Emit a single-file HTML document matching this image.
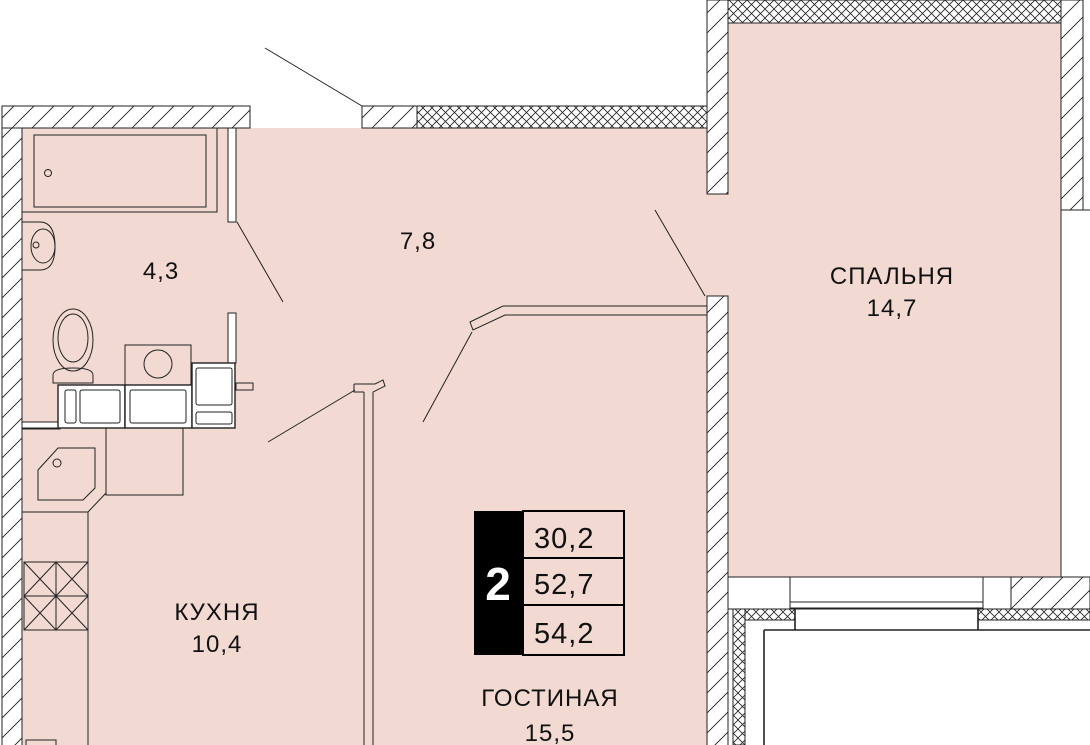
<!DOCTYPE html>
<html><head><meta charset="utf-8"><style>
html,body{margin:0;padding:0;background:#fff;width:1090px;height:745px;overflow:hidden}
svg{display:block}
text{font-family:"Liberation Sans",sans-serif;fill:#111}
</style></head><body>
<svg width="1090" height="745" viewBox="0 0 1090 745" xmlns="http://www.w3.org/2000/svg">
<defs>
<pattern id="h" width="20" height="20" patternUnits="userSpaceOnUse">
<rect width="20" height="20" fill="#fff"/>
<path d="M0 20 L20 0 M-4 4 L4 -4 M16 24 L24 16" stroke="#222" stroke-width="0.9"/>
</pattern>
<pattern id="x" width="9" height="9" patternUnits="userSpaceOnUse">
<rect width="9" height="9" fill="#fff"/>
<path d="M0 0 L9 9 M9 0 L0 9" stroke="#222" stroke-width="0.8"/>
</pattern>
</defs>
<rect x="22" y="128" width="686" height="617" fill="#f2dad2"/>
<rect x="707" y="194" width="22" height="102" fill="#f2dad2"/>
<rect x="728" y="23" width="333" height="554" fill="#f2dad2"/>
<rect x="2" y="106" width="20" height="640" fill="url(#h)" stroke="#222"/>
<rect x="2" y="106" width="248" height="22" fill="url(#h)" stroke="#222"/>
<rect x="362" y="106" width="55" height="22" fill="url(#h)" stroke="#222"/>
<rect x="417" y="106" width="290" height="22" fill="url(#x)" stroke="#222"/>
<rect x="707" y="0" width="21" height="194" fill="url(#h)" stroke="#222"/>
<rect x="707" y="296" width="21" height="450" fill="url(#h)" stroke="#222"/>
<rect x="728" y="0" width="333" height="23" fill="url(#x)" stroke="#222"/>
<rect x="1061" y="0" width="22" height="210" fill="url(#h)" stroke="#222"/>
<rect x="1061" y="210" width="35" height="367" fill="#fff" stroke="#222"/>
<rect x="728" y="577" width="62" height="32" fill="#fff" stroke="#222"/>
<rect x="790" y="577" width="193" height="32" fill="#fff" stroke="#222"/>
<rect x="983" y="577" width="28" height="32" fill="#fff" stroke="#222"/>
<rect x="1011" y="577" width="79" height="32" fill="url(#h)" stroke="#222"/>
<rect x="790" y="602" width="193" height="6" fill="#fff" stroke="#222"/>
<rect x="733" y="609" width="62" height="11" fill="url(#x)" stroke="#222"/>
<rect x="978" y="609" width="112" height="11" fill="url(#x)" stroke="#222"/>
<rect x="733" y="609" width="12" height="136" fill="url(#x)" stroke="#222"/>
<path d="M795 609 V630 M978 609 V630 M764 630 H1090 M764 630 V745" stroke="#222" stroke-width="1.6" fill="none"/>
<g stroke="#222" stroke-width="1" fill="none">
<line x1="265" y1="48" x2="362" y2="106"/>
<line x1="237" y1="222" x2="283" y2="302"/>
<line x1="655" y1="210" x2="705" y2="296"/>
<line x1="423" y1="422" x2="472" y2="332"/>
<path d="M470 322 L503 306 H707 V315 H505 L473 330 Z" fill="#f2dad2"/>
<line x1="268" y1="442" x2="355" y2="390"/>
<path d="M354 384 H375 L383 380 L385 386 L373 392 H373 V745 M364 392 V745 M354 384 V392 H364"/>
<rect x="22" y="128" width="195" height="84"/>
<rect x="34" y="135" width="172" height="72"/>
<circle cx="48" cy="173" r="3.5"/>
<rect x="228" y="128" width="8" height="94" fill="#fff"/>
<path d="M22 222 H40 Q55 222 55 247 Q55 270 40 270 H22"/>
<ellipse cx="43" cy="246" rx="12" ry="17"/>
<circle cx="36" cy="245" r="3"/>
<ellipse cx="73" cy="340" rx="20" ry="31"/>
<ellipse cx="73" cy="338" rx="15" ry="24"/>
<path d="M53 383 V375 Q53 368 73 368 Q93 368 93 375 V383 Z"/>
<rect x="125" y="345" width="66" height="40"/>
<circle cx="158" cy="364" r="14"/>
<rect x="228" y="313" width="8" height="50" fill="#fff"/>
<rect x="236" y="383" width="17" height="7"/>
<rect x="22" y="422" width="38" height="7" fill="#fff"/>
<g stroke-width="1.4">
<rect x="58" y="385" width="67" height="43" fill="#fff"/>
<rect x="125" y="385" width="67" height="43" fill="#fff"/>
<rect x="192" y="363" width="43" height="65" fill="#fff"/>
</g>
<rect x="65" y="390" width="11" height="33" rx="2"/>
<rect x="80" y="390" width="40" height="33" rx="2"/>
<rect x="130" y="390" width="56" height="33" rx="2"/>
<rect x="196" y="368" width="36" height="37" rx="2"/>
<rect x="196" y="412" width="36" height="12" rx="2"/>
<path d="M22 428 V512 H88 L106 493 V428 Z"/>
<path d="M38 500 V470 L58 448 H95 V488 L83 500 Z"/>
<circle cx="57" cy="463" r="4"/>
<rect x="106" y="428" width="77" height="67"/>
<path d="M22 512 H88 V745"/>
<rect x="24" y="562" width="64" height="68"/>
<path d="M24 562 L88 630 M88 562 L24 630 M24 596 H88 M56 562 V630 M24 596 L56 562 L88 596 L56 630 Z"/>
<rect x="26" y="740" width="30" height="10"/>
</g>
<g font-size="24" text-anchor="middle" letter-spacing="1">
<text x="161" y="279">4,3</text>
<text x="418" y="249">7,8</text>
<text x="892" y="284">СПАЛЬНЯ</text>
<text x="892" y="316">14,7</text>
<text x="217" y="620">КУХНЯ</text>
<text x="217" y="652">10,4</text>
<text x="550" y="706">ГОСТИНАЯ</text>
<text x="550" y="741">15,5</text>
</g>
<rect x="474" y="511" width="49" height="144" fill="#000"/>
<rect x="523" y="511" width="101" height="144" fill="none" stroke="#000" stroke-width="2"/>
<line x1="523" y1="558" x2="624" y2="558" stroke="#000" stroke-width="2"/>
<line x1="523" y1="605" x2="624" y2="605" stroke="#000" stroke-width="2"/>
<text x="498" y="600" font-size="46" font-weight="bold" text-anchor="middle" style="fill:#fff">2</text>
<g font-size="29" letter-spacing="1">
<text x="534" y="548">30,2</text>
<text x="534" y="594">52,7</text>
<text x="534" y="643">54,2</text>
</g>
</svg>
</body></html>
